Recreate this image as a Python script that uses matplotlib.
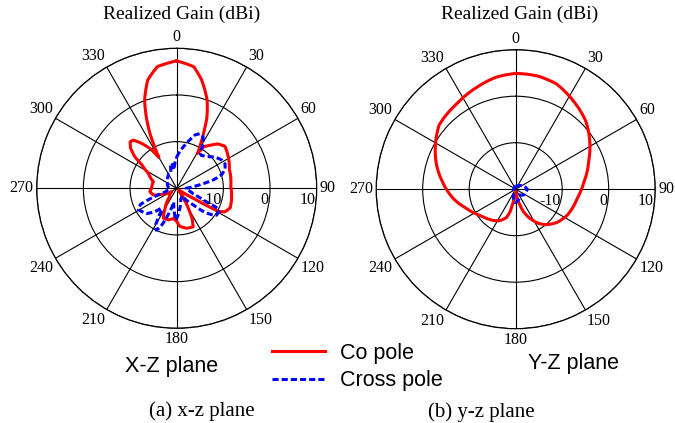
import numpy as np
import matplotlib
matplotlib.use('Agg')
import matplotlib.pyplot as plt
from matplotlib.font_manager import FontProperties

plt.rcParams['font.family'] = ['Liberation Serif', 'DejaVu Serif']

# x-z plane, co-pol (angle deg, gain dBi)
xz_co_ang = [0, 8, 13, 19, 23, 26, 29, 31, 33, 38, 43, 49, 58, 70, 88, 102, 110, 116,
             119, 121, 125, 135, 143, 150, 153, 157, 166, 175, 180, 186, 195, 204, 210,
             220, 236, 248, 254, 263, 270, 286, 298, 304, 307, 311, 315, 318, 322, 326,
             330, 332, 334, 337, 340, 345, 351, 360]
xz_co_gain = [7.3, 6.3, 3.8, 0.0, -3.4, -6.9, -9.8, -11.3, -9.4, -8.3, -7.0, -6.3, -7.0,
              -8.0, -8.4, -8.0, -7.8, -8.5, -9.8, -15.9, -19.0, -19.5, -18.2, -15.0,
              -12.8, -11.0, -11.2, -11.8, -12.9, -13.5, -13.0, -13.0, -15.0, -17.5,
              -18.7, -16.5, -14.8, -14.2, -14.6, -14.8, -13.1, -11.0, -8.8, -6.9, -5.9,
              -6.1, -7.8, -9.7, -12.4, -9.9, -6.9, -3.3, 0.1, 4.0, 6.4, 7.3]

# x-z plane, cross-pol
xz_x_ang = [0, 5, 11, 15, 19, 23, 27, 30, 32, 34, 37, 44, 51, 58, 63, 68, 73, 77, 80,
            84, 90, 100, 109, 114, 116, 120, 124, 127, 131, 135, 145, 160, 172, 178,
            182, 186, 192, 198, 203, 206, 210, 214, 218, 223, 230, 241, 246, 248, 252,
            265, 285, 310, 330, 340, 345, 349, 352, 356, 360]
xz_x_gain = [-13.3, -12.1, -10.5, -9.3, -7.9, -7.3, -7.6, -8.5, -9.9, -11.0, -11.2,
             -10.6, -9.4, -8.6, -8.4, -8.8, -9.9, -11.9, -14.2, -16.5, -18.0, -17.5,
             -16.2, -13.8, -10.1, -9.7, -9.7, -10.6, -12.4, -15.0, -18.0, -17.5, -15.5,
             -14.0, -13.2, -15.0, -17.0, -14.0, -11.0, -10.0, -11.0, -14.0, -14.6,
             -13.2, -11.6, -10.6, -11.5, -13.5, -17.5, -18.5, -18.0, -17.5, -16.5,
             -16.5, -15.0, -14.5, -16.0, -14.6, -13.3]

# y-z plane, co-pol
yz_co_ang = [0, 11, 21, 33, 46, 57, 69, 84, 98, 117, 129, 139, 146, 154, 161, 165, 172,
             180, 186, 191, 194, 198, 207, 216, 230, 236, 249, 262, 275, 287, 299, 310,
             325, 339, 350, 360]
yz_co_gain = [4.9, 4.8, 4.3, 2.7, 1.0, -1.0, -3.2, -5.25, -6.6, -7.6, -8.6, -9.9, -11.1,
              -13.0, -14.9, -16.5, -18.5, -19.5, -18.5, -17.3, -15.0, -13.6, -12.4,
              -11.7, -10.8, -10.2, -8.6, -6.35, -4.3, -2.2, -0.25, 1.5, 2.3, 3.45,
              4.45, 4.9]

# y-z plane, cross-pol
yz_x_ang = [0, 31, 60, 78, 90, 97, 110, 126, 145, 166, 183, 194, 210, 260, 330, 360]
yz_x_gain = [-19.3, -19.2, -18.5, -17.9, -17.5, -17.6, -17.8, -17.9, -18.5, -17.6,
             -17.1, -18.0, -19.3, -19.6, -19.5, -19.3]

theta_ticks = list(range(0, 360, 30))
r_ticks = [-10, 0, 10]

fig = plt.figure(figsize=(6.75, 4.23), dpi=100)


def setup_polar(ax):
    ax.set_theta_zero_location('N')
    ax.set_theta_direction(-1)
    ax.set_rlim(-20, 10)
    ax.set_rticks(r_ticks)
    ax.set_yticklabels([])
    ax.set_thetagrids(theta_ticks, labels=[''] * len(theta_ticks))
    ax.grid(True, color='black', lw=0.8, ls='-')
    ax.spines['polar'].set_color('black')
    ax.spines['polar'].set_linewidth(0.9)
    ax.set_facecolor('white')

    # angle labels just outside the outer ring
    for a in theta_ticks:
        t = np.deg2rad(a)
        s, c = np.sin(t), np.cos(t)
        ha = 'left' if s > 0.1 else ('right' if s < -0.1 else 'center')
        va = 'bottom' if c > 0.1 else ('top' if c < -0.1 else 'center')
        ax.annotate(str(a), xy=(t, 10), xytext=(2.2 * s, 2.2 * c),
                    textcoords='offset points', ha=ha, va=va, fontsize=11.5,
                    annotation_clip=False)
    # ring labels
    for r in r_ticks:
        ax.annotate(str(r), xy=(np.pi / 2, r), xytext=(-1, -8.5),
                    textcoords='offset points', ha='right', va='center',
                    fontsize=11.5, annotation_clip=False)


def pattern(ax, ang, gain, **kw):
    line, = ax.plot(np.deg2rad(ang), gain, **kw)
    # let the polar transform follow arcs between samples
    line.get_path()._interpolation_steps = 12
    return line


ax1 = fig.add_axes([0.05437, 0.2239, 0.41481, 0.66194], projection='polar')
setup_polar(ax1)
co_line = pattern(ax1, xz_co_ang, xz_co_gain, color='#ff0000', lw=2.2)
cross_line = pattern(ax1, xz_x_ang, xz_x_gain, color='#0000ff', lw=2.2,
                     ls=(0, (2, 1)))

ax2 = fig.add_axes([0.55733, 0.22293, 0.41333, 0.65957], projection='polar')
setup_polar(ax2)
pattern(ax2, yz_co_ang, yz_co_gain, color='#ff0000', lw=2.2)
pattern(ax2, yz_x_ang, yz_x_gain, color='#0000ff', lw=2.2, ls=(0, (2, 1)))

fig.text(181.5 / 675, 1 - 14 / 423, 'Realized Gain (dBi)', ha='center', va='center',
         fontsize=14)
fig.text(520 / 675, 1 - 14 / 423, 'Realized Gain (dBi)', ha='center', va='center',
         fontsize=14)

sans = FontProperties(family='Liberation Sans', size=15.5)
fig.text(125 / 675, 1 - 366 / 423, 'X-Z plane', ha='left', va='center',
         fontproperties=sans)
fig.text(528 / 675, 1 - 363 / 423, 'Y-Z plane', ha='left', va='center',
         fontproperties=sans)

fig.legend([co_line, cross_line], ['Co pole', 'Cross pole'], loc='upper left',
           bbox_to_anchor=(272 / 675, 1 - 343 / 423), frameon=False, borderpad=0,
           borderaxespad=0, handlelength=2.45, handletextpad=0.7, labelspacing=0.3,
           prop=sans)

fig.text(202 / 675, 1 - 411 / 423, '(a) x-z plane', ha='center', va='center',
         fontsize=15)
fig.text(481.5 / 675, 1 - 412 / 423, '(b) y-z plane', ha='center', va='center',
         fontsize=15)

fig.savefig('out.png', dpi=100, facecolor='white')
